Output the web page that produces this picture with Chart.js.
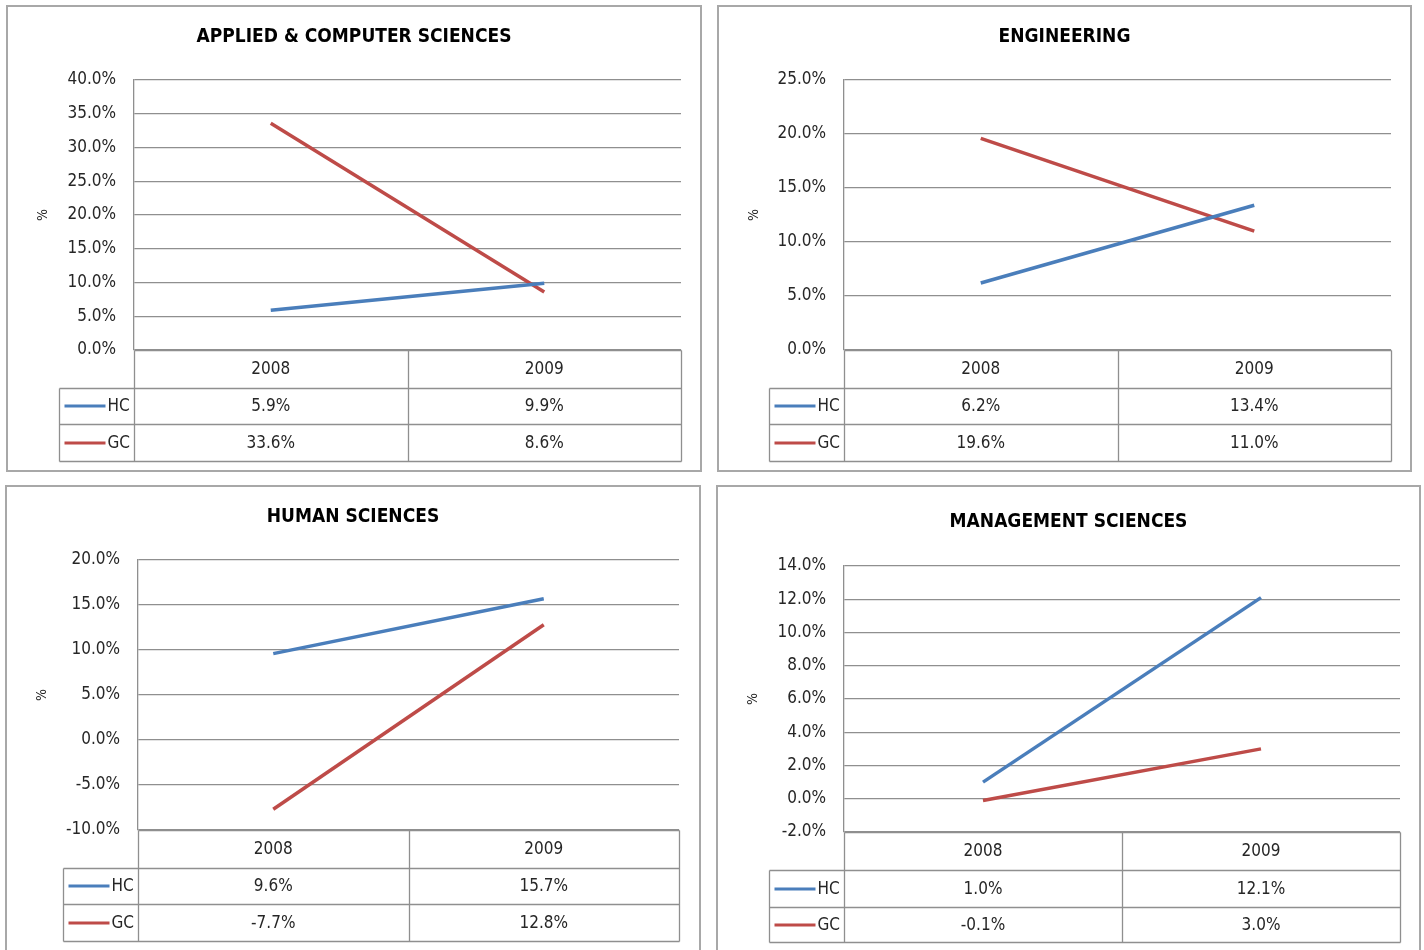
<!DOCTYPE html>
<html><head><meta charset="utf-8">
<script src="https://cdn.jsdelivr.net/npm/chart.js@4.4.1/dist/chart.umd.min.js"></script>
<style>
html,body{margin:0;padding:0;background:#fff;width:1424px;height:950px;overflow:hidden;}
.panel{position:absolute;box-sizing:border-box;border:2px solid #a8a8a8;}
canvas{position:absolute;}
</style></head><body>
<script>
// ---- data ----
const years = ['2008', '2009'];
const seriesNames = ['HC', 'GC'];
const chartTitles = ['APPLIED & COMPUTER SCIENCES', 'ENGINEERING', 'HUMAN SCIENCES', 'MANAGEMENT SCIENCES'];
const appliedHC = [5.9, 9.9];
const appliedGC = [33.6, 8.6];
const engineeringHC = [6.2, 13.4];
const engineeringGC = [19.6, 11.0];
const humanHC = [9.6, 15.7];
const humanGC = [-7.7, 12.8];
const managementHC = [1.0, 12.1];
const managementGC = [-0.1, 3.0];
const yMins = [0, 0, -10, -2];
const yMaxs = [40, 25, 20, 14];
const ySteps = [5, 5, 5, 2];
const axisLabel = '%';

// ---- layout / style (not data) ----
const seriesColors = ['#4A7EBB', '#BE4B48'];
const FAMILY = '"DejaVu Sans Condensed","DejaVu Sans",sans-serif';
const TEXT = '#262626';
const GRID = '#8f8f8f';
const panels = [
  {box: [6, 5, 702, 472],   area: [134, 80, 681, 350],  titleY: 37,  rows: [38, 36, 37]},
  {box: [717, 5, 1412, 472], area: [844, 80, 1391, 350], titleY: 37,  rows: [38, 36, 37]},
  {box: [5, 485, 701, 960],  area: [138, 560, 679, 830], titleY: 517, rows: [38, 36, 37]},
  {box: [716, 485, 1421, 960], area: [844, 566, 1400, 832], titleY: 522, rows: [38, 37, 35]}
];
const seriesData = [
  [appliedHC, appliedGC],
  [engineeringHC, engineeringGC],
  [humanHC, humanGC],
  [managementHC, managementGC]
];
const fmt = v => v.toFixed(1) + '%';

function crisp(v) { return Math.round(v) + 0.5; }

const tablePlugin = {
  id: 'excelTable',
  afterDraw(chart, args, o) {
    const ctx = chart.ctx, ca = chart.chartArea, xs = chart.scales.x;
    const p = o.panel, idx = o.index;
    const ox = p.box[0], oy = p.box[1];
    ctx.save();
    // title
    ctx.fillStyle = '#000';
    ctx.font = 'bold 19px ' + FAMILY;
    ctx.textAlign = 'center';
    ctx.textBaseline = 'middle';
    ctx.fillText(chartTitles[idx], (p.box[2] - p.box[0]) / 2, p.titleY - oy);
    // axis label
    ctx.save();
    ctx.translate(37, (ca.top + ca.bottom) / 2);
    ctx.rotate(-Math.PI / 2);
    ctx.font = '14px ' + FAMILY;
    ctx.fillStyle = TEXT;
    ctx.fillText(axisLabel, 0, 0);
    ctx.restore();

    // table
    const L = crisp(ca.left), R = crisp(ca.right);
    const legL = crisp(ca.left - 75);
    const mid = crisp((xs.getPixelForValue(0) + xs.getPixelForValue(1)) / 2);
    const y0 = ca.bottom;
    const y1 = y0 + p.rows[0], y2 = y1 + p.rows[1], y3 = y2 + p.rows[2];
    ctx.strokeStyle = GRID;
    ctx.lineWidth = 1.3;
    ctx.beginPath();
    // horizontal lines
    ctx.moveTo(L, crisp(y0)); ctx.lineTo(R, crisp(y0));
    ctx.moveTo(legL, crisp(y1)); ctx.lineTo(R, crisp(y1));
    ctx.moveTo(legL, crisp(y2)); ctx.lineTo(R, crisp(y2));
    ctx.moveTo(legL, crisp(y3)); ctx.lineTo(R, crisp(y3));
    // vertical lines
    ctx.moveTo(L, crisp(y0)); ctx.lineTo(L, crisp(y3));
    ctx.moveTo(mid, crisp(y0)); ctx.lineTo(mid, crisp(y3));
    ctx.moveTo(R, crisp(y0)); ctx.lineTo(R, crisp(y3));
    ctx.moveTo(legL, crisp(y1)); ctx.lineTo(legL, crisp(y3));
    ctx.stroke();

    ctx.font = '17px ' + FAMILY;
    ctx.fillStyle = TEXT;
    ctx.textAlign = 'center';
    ctx.textBaseline = 'middle';
    years.forEach((yr, i) => {
      ctx.fillText(yr, xs.getPixelForValue(i), (y0 + y1) / 2 + 1);
    });
    const rowMids = [(y1 + y2) / 2 + 1, (y2 + y3) / 2 + 1];
    chart.data.datasets.forEach((ds, s) => {
      const ym = rowMids[s];
      ds.data.forEach((v, i) => {
        ctx.textAlign = 'center';
        ctx.fillText(fmt(v), xs.getPixelForValue(i), ym);
      });
      // legend key
      ctx.strokeStyle = ds.borderColor;
      ctx.lineWidth = 3;
      ctx.beginPath();
      ctx.moveTo(legL + 5, Math.round(ym) - 1);
      ctx.lineTo(legL + 46, Math.round(ym) - 1);
      ctx.stroke();
      ctx.textAlign = 'left';
      ctx.fillText(ds.label, legL + 48, ym);
    });
    ctx.restore();
  }
};

panels.forEach((p, idx) => {
  const w = p.box[2] - p.box[0], h = p.box[3] - p.box[1];
  const div = document.createElement('div');
  div.className = 'panel';
  div.style.left = p.box[0] + 'px';
  div.style.top = p.box[1] + 'px';
  div.style.width = w + 'px';
  div.style.height = h + 'px';
  document.body.appendChild(div);
  const cv = document.createElement('canvas');
  cv.width = w; cv.height = h;
  cv.style.left = p.box[0] + 'px';
  cv.style.top = p.box[1] + 'px';
  cv.style.width = w + 'px'; cv.style.height = h + 'px';
  document.body.appendChild(cv);
  const leftW = p.area[0] - p.box[0];
  new Chart(cv, {
    type: 'line',
    data: {
      labels: years,
      datasets: seriesNames.map((n, s) => ({
        label: n,
        data: seriesData[idx][s],
        borderColor: seriesColors[s],
        backgroundColor: seriesColors[s],
        borderWidth: 3.5,
        pointRadius: 0,
        tension: 0,
        fill: false
      }))
    },
    options: {
      responsive: false,
      animation: false,
      devicePixelRatio: 1,
      layout: {
        padding: {
          left: 0,
          top: p.area[1] - p.box[1],
          right: p.box[2] - p.area[2],
          bottom: p.box[3] - p.area[3]
        }
      },
      plugins: {
        legend: {display: false},
        title: {display: false},
        tooltip: {enabled: false},
        excelTable: {panel: p, index: idx}
      },
      scales: {
        x: {type: 'category', offset: true, display: false},
        y: {
          min: yMins[idx], max: yMaxs[idx],
          afterFit(scale) { scale.width = leftW; },
          ticks: {
            stepSize: ySteps[idx],
            callback: v => fmt(v),
            color: TEXT,
            padding: 18,
            font: {family: FAMILY, size: 17}
          },
          grid: {color: GRID, lineWidth: 1.3, drawTicks: false},
          border: {color: GRID, width: 1.3}
        }
      }
    },
    plugins: [tablePlugin]
  });
});
</script>
</body></html>
